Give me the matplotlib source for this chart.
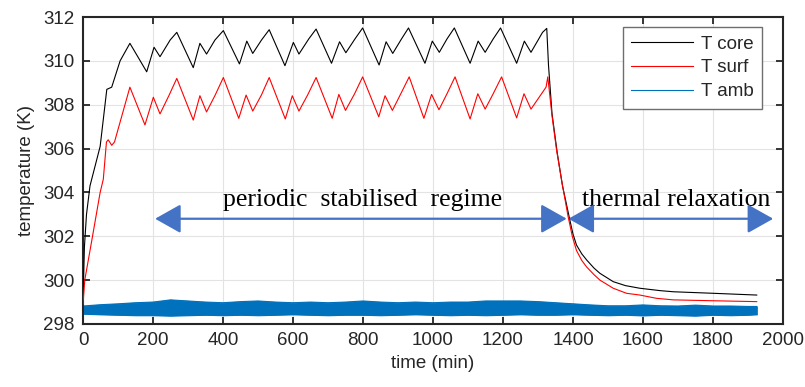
import numpy as np
import matplotlib
matplotlib.use('Agg')
import matplotlib.pyplot as plt
from matplotlib.lines import Line2D

matplotlib.rcParams['font.family'] = 'Liberation Sans'
matplotlib.rcParams['font.size'] = 13.5

# core temperature (black)
core_t = [0, 4, 10, 20, 49, 68, 82, 106, 134, 182, 203, 220, 249, 268, 315, 334, 353, 377, 401, 447,
          468, 485, 510, 532, 577, 601, 617, 645, 666, 710, 733, 751, 777, 799, 846, 866, 885, 910, 930, 977,
          998, 1018, 1040, 1061, 1106, 1129, 1149, 1172, 1193, 1239, 1261, 1280, 1313, 1325, 1330,
          1340, 1355, 1370, 1391, 1400, 1410, 1425, 1439, 1460, 1477, 1515, 1550, 1591, 1650, 1687, 1801, 1925]
core_T = [299.0, 301.5, 303.0, 304.3, 306.1, 308.7, 308.8, 310.0, 310.8, 309.5, 310.62, 310.19, 310.95, 311.3, 309.69,
          310.8, 310.31, 310.95, 311.38, 309.86, 310.9, 310.34, 310.95, 311.42, 309.78, 310.84, 310.31, 311.0, 311.45, 309.89,
          310.87, 310.37, 311.0, 311.5, 309.81, 310.87, 310.34, 311.0, 311.5, 309.89, 310.9, 310.39, 311.0, 311.5, 309.89,
          310.9, 310.39, 311.0, 311.5, 309.89, 310.9, 310.39, 311.3, 311.48, 309.8, 307.6, 305.8, 304.3, 302.74, 302.1,
          301.6, 301.2, 300.92, 300.55, 300.31, 299.93, 299.75, 299.63, 299.52, 299.47, 299.4, 299.32]

# surface temperature (red)
surf_t = [0, 5, 25, 49, 58, 67, 72, 82, 90, 134, 177, 201, 220, 245, 268, 315, 334, 353, 378, 401,
          445, 466, 485, 510, 532, 578, 598, 617, 642, 666, 712, 731, 750, 776, 799, 845, 863, 884, 908, 932,
          974, 996, 1017, 1040, 1063, 1106, 1128, 1149, 1172, 1196, 1239, 1260, 1280, 1323, 1328,
          1340, 1353, 1368, 1386, 1398, 1410, 1425, 1439, 1460, 1477, 1515, 1553, 1591, 1639, 1687, 1801, 1925]
surf_T = [298.9, 300.0, 301.8, 304.0, 304.6, 306.3, 306.4, 306.15, 306.3, 308.8, 307.08, 308.34, 307.58, 308.4, 309.2,
          307.3, 308.41, 307.67, 308.45, 309.24, 307.38, 308.44, 307.71, 308.45, 309.24, 307.35, 308.41, 307.71, 308.45, 309.24,
          307.38, 308.47, 307.74, 308.5, 309.27, 307.45, 308.41, 307.74, 308.5, 309.27, 307.38, 308.47, 307.77, 308.5, 309.27,
          307.35, 308.5, 307.8, 308.5, 309.27, 307.4, 308.5, 307.8, 308.8, 309.27, 307.5, 305.94, 304.5, 302.9, 302.0,
          301.35, 300.9, 300.6, 300.25, 300.0, 299.63, 299.4, 299.32, 299.17, 299.1, 299.06, 299.02]

# ambient temperature (blue, noisy) - envelope of the band
amb_t = [0, 50, 100, 150, 200, 250, 300, 350, 400, 450, 500, 550, 600, 650, 700, 750, 800, 850, 900, 950,
         1000, 1050, 1100, 1150, 1200, 1250, 1300, 1350, 1400, 1450, 1500, 1550, 1600, 1650, 1700, 1750,
         1800, 1850, 1900, 1925]
amb_hi = [298.82, 298.88, 298.92, 298.97, 299.0, 299.1, 299.05, 299.0, 298.97, 299.02, 299.05, 299.0, 298.97, 299.0,
          298.97, 299.0, 299.05, 299.0, 298.97, 299.0, 298.97, 299.0, 299.0, 299.05, 299.05, 299.05, 299.02, 298.97,
          298.92, 298.87, 298.83, 298.83, 298.87, 298.83, 298.82, 298.86, 298.82, 298.82, 298.8, 298.8]
amb_lo = [298.47, 298.44, 298.42, 298.4, 298.4, 298.38, 298.4, 298.42, 298.4, 298.42, 298.4, 298.42, 298.44, 298.42,
          298.4, 298.42, 298.42, 298.4, 298.42, 298.44, 298.42, 298.4, 298.42, 298.4, 298.42, 298.44, 298.42, 298.42,
          298.44, 298.42, 298.4, 298.42, 298.39, 298.42, 298.4, 298.38, 298.42, 298.4, 298.42, 298.44]

xticks = list(range(0, 2001, 200))
yticks = list(range(298, 313, 2))

axcol = '#262626'
blue = '#0072BD'
arrow_col = '#4472C4'

fig = plt.figure(figsize=(8.05, 3.87), dpi=100)
ax = fig.add_axes([83/805, 63/387, 700/805, 307/387])

ax.fill_between(amb_t, amb_lo, amb_hi, color=blue, lw=0.8, zorder=2)
ax.plot(amb_t, amb_hi, color=blue, lw=0.8, zorder=2)
ax.plot(amb_t, amb_lo, color=blue, lw=0.8, zorder=2)
ax.plot(core_t, core_T, color='black', lw=0.8, zorder=3)
ax.plot(surf_t, surf_T, color='red', lw=0.8, zorder=4)

ax.set_xlim(0, 2000)
ax.set_ylim(298, 312)
ax.set_xticks(xticks)
ax.set_yticks(yticks)
ax.grid(True, color='#e3e3e3', lw=0.8)
ax.set_axisbelow(True)
ax.tick_params(direction='in', length=5, width=1.3, colors=axcol, top=True, right=True,
               labelsize=13.5, pad=6)
for s in ax.spines.values():
    s.set_linewidth(1.5)
    s.set_color(axcol)

ax.set_xlabel('time (min)', fontsize=13.5, color=axcol, labelpad=4)
ax.set_ylabel('temperature (K)', fontsize=13.5, color=axcol, labelpad=6)

handles = [Line2D([], [], color='black', lw=0.8),
           Line2D([], [], color='red', lw=0.8),
           Line2D([], [], color=blue, lw=0.8)]
leg = ax.legend(handles, ['T core', 'T surf', 'T amb'], loc='upper right',
                bbox_to_anchor=(0.970, 0.967), borderaxespad=0, fontsize=13.5,
                fancybox=False, framealpha=1, edgecolor='#6e6e6e',
                handlelength=3.3, handletextpad=0.4, labelspacing=0.35, borderpad=0.45)
leg.get_frame().set_linewidth(1.0)
for txt in leg.get_texts():
    txt.set_color(axcol)

# regime annotations
y_arr = 302.8
arrow_props = dict(arrowstyle='<|-|>,head_length=0.8,head_width=0.45', color=arrow_col,
                   lw=1.6, shrinkA=0, shrinkB=0, mutation_scale=20)
ax.annotate('', xy=(206, y_arr), xytext=(1382, y_arr), arrowprops=arrow_props, zorder=5)
ax.annotate('', xy=(1387, y_arr), xytext=(1972, y_arr), arrowprops=arrow_props, zorder=5)

ax.text(799, 303.38, 'periodic  stabilised  regime', family='Liberation Serif', fontsize=18.5,
        ha='center', va='baseline', color='black')
ax.text(1696, 303.38, 'thermal relaxation', family='Liberation Serif', fontsize=18.5,
        ha='center', va='baseline', color='black')

fig.savefig('out.png', dpi=100)
